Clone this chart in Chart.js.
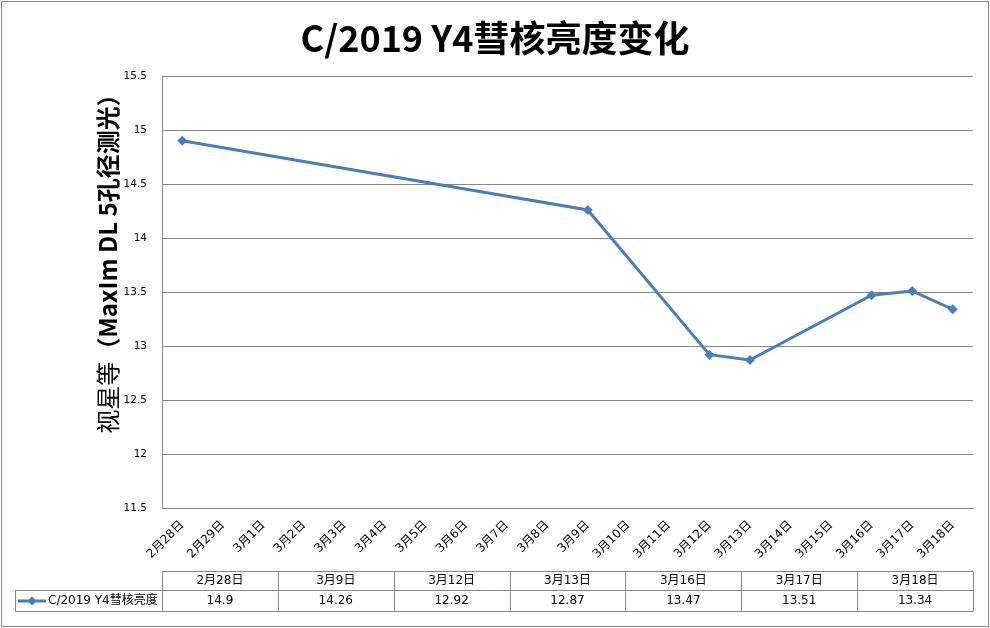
<!DOCTYPE html>
<html>
<head>
<meta charset="utf-8">
<script src="https://cdn.jsdelivr.net/npm/chart.js@4"></script>
<style>
html,body{margin:0;padding:0;background:#fff;}
#wrap{width:990px;height:628px;position:relative;}
</style>
</head>
<body>
<div id="wrap"><canvas id="c" width="990" height="628"></canvas></div>
<script>
// ---- data ----
const categories = ['2月28日','2月29日','3月1日','3月2日','3月3日','3月4日','3月5日','3月6日','3月7日','3月8日','3月9日','3月10日','3月11日','3月12日','3月13日','3月14日','3月15日','3月16日','3月17日','3月18日'];
const obsDates = ['2月28日','3月9日','3月12日','3月13日','3月16日','3月17日','3月18日'];
const obsValues = [14.9, 14.26, 12.92, 12.87, 13.47, 13.51, 13.34];
const seriesName = 'C/2019 Y4彗核亮度';
const yTicks = [11.5, 12, 12.5, 13, 13.5, 14, 14.5, 15, 15.5];

const seriesData = categories.map(c => {
  const i = obsDates.indexOf(c);
  return i >= 0 ? obsValues[i] : null;
});

const LINE = '#4A7EBB';
const GRID = '#868686';
const FONT = "'DejaVu Sans','Noto Sans CJK SC',sans-serif";

const extras = {
  id: 'extras',
  afterDraw(chart) {
    const ctx = chart.ctx;
    const ca = chart.chartArea;
    ctx.save();
    // outer border
    ctx.strokeStyle = GRID;
    ctx.lineWidth = 1;
    ctx.strokeRect(1.5, 1.5, 987, 625);

    // y title
    ctx.save();
    ctx.translate(108, 258);
    ctx.rotate(-Math.PI / 2);
    ctx.fillStyle = '#000';
    ctx.textBaseline = 'middle';
    const p1 = '视星等';
    const p2 = '（MaxIm DL 5孔径测光）';
    const f1 = "24px 'Noto Sans CJK SC',serif";
    const f2 = "bold 24px 'Noto Sans CJK SC',sans-serif";
    ctx.font = f1;
    const w1 = ctx.measureText(p1).width;
    ctx.font = f2;
    const w2 = ctx.measureText(p2).width;
    const x0 = -(w1 + w2) / 2;
    ctx.textAlign = 'left';
    ctx.font = f1;
    ctx.fillText(p1, x0, 0);
    ctx.font = f2;
    ctx.fillText(p2, x0 + w1, 0);
    ctx.restore();

    // data table
    const n = obsDates.length;
    const colW = (ca.right - ca.left) / n;
    const r0 = ca.bottom + 63.5, r1 = ca.bottom + 82.5, r2 = ca.bottom + 103.5;
    const lx = 15.5;
    ctx.strokeStyle = GRID;
    ctx.lineWidth = 1;
    ctx.beginPath();
    ctx.moveTo(ca.left, r0); ctx.lineTo(ca.right, r0);
    ctx.moveTo(lx, r1); ctx.lineTo(ca.right, r1);
    ctx.moveTo(lx, r2); ctx.lineTo(ca.right, r2);
    ctx.moveTo(lx, r1); ctx.lineTo(lx, r2);
    for (let i = 0; i <= n; i++) {
      const x = Math.round(ca.left + i * colW) + 0.5;
      ctx.moveTo(x, r0); ctx.lineTo(x, r2);
    }
    ctx.stroke();

    ctx.fillStyle = '#000';
    ctx.textAlign = 'center';
    ctx.textBaseline = 'middle';
    ctx.font = '12px ' + FONT;
    for (let i = 0; i < n; i++) {
      const cx = ca.left + (i + 0.5) * colW;
      ctx.fillText(obsDates[i], cx, (r0 + r1) / 2);
      ctx.fillText(String(obsValues[i]), cx, (r1 + r2) / 2);
    }
    // legend key
    const ky = (r1 + r2) / 2;
    ctx.strokeStyle = LINE;
    ctx.lineWidth = 3;
    ctx.beginPath(); ctx.moveTo(18, ky); ctx.lineTo(46, ky); ctx.stroke();
    ctx.fillStyle = LINE;
    ctx.beginPath();
    ctx.moveTo(32, ky - 4.5); ctx.lineTo(36.5, ky); ctx.lineTo(32, ky + 4.5); ctx.lineTo(27.5, ky);
    ctx.closePath(); ctx.fill();
    ctx.fillStyle = '#000';
    ctx.textAlign = 'left';
    ctx.font = '12px ' + FONT;
    ctx.fillText(seriesName, 48, ky);
    ctx.restore();
  }
};

new Chart(document.getElementById('c'), {
  type: 'line',
  data: {
    labels: categories,
    datasets: [{
      label: seriesName,
      data: seriesData,
      spanGaps: true,
      borderColor: LINE,
      backgroundColor: LINE,
      borderWidth: 3,
      pointStyle: 'rectRot',
      pointRadius: 5,
      pointHoverRadius: 5,
      pointBackgroundColor: LINE,
      pointBorderColor: LINE,
      pointBorderWidth: 0,
      tension: 0
    }]
  },
  options: {
    responsive: false,
    animation: false,
    devicePixelRatio: 1,
    layout: { padding: { left: 17, right: 17, top: 0, bottom: 0 } },
    plugins: {
      legend: { display: false },
      tooltip: { enabled: false },
      title: {
        display: true,
        text: 'C/2019 Y4彗核亮度变化',
        color: '#000',
        font: { family: "'Noto Sans CJK SC','DejaVu Sans',sans-serif", size: 36, weight: 'bold', lineHeight: 1.2 },
        padding: { top: 16.4, bottom: 16.4 }
      }
    },
    scales: {
      x: {
        type: 'category',
        offset: true,
        grid: { display: false, drawTicks: false },
        border: { display: true, color: GRID, width: 1 },
        ticks: {
          autoSkip: false,
          minRotation: 45,
          maxRotation: 45,
          padding: 10,
          color: '#000',
          font: { family: FONT, size: 12 }
        },
        afterFit: s => { s.height = 120; }
      },
      y: {
        min: 11.5,
        max: 15.5,
        afterBuildTicks: s => { s.ticks = yTicks.map(v => ({ value: v })); },
        grid: { color: GRID, lineWidth: 1, drawTicks: false },
        border: { display: true, color: GRID, width: 1 },
        ticks: {
          padding: 15,
          color: '#000',
          font: { family: FONT, size: 10.5 },
          callback: v => String(v)
        },
        afterFit: s => { s.width = 145; }
      }
    }
  },
  plugins: [extras]
});
</script>
</body>
</html>
